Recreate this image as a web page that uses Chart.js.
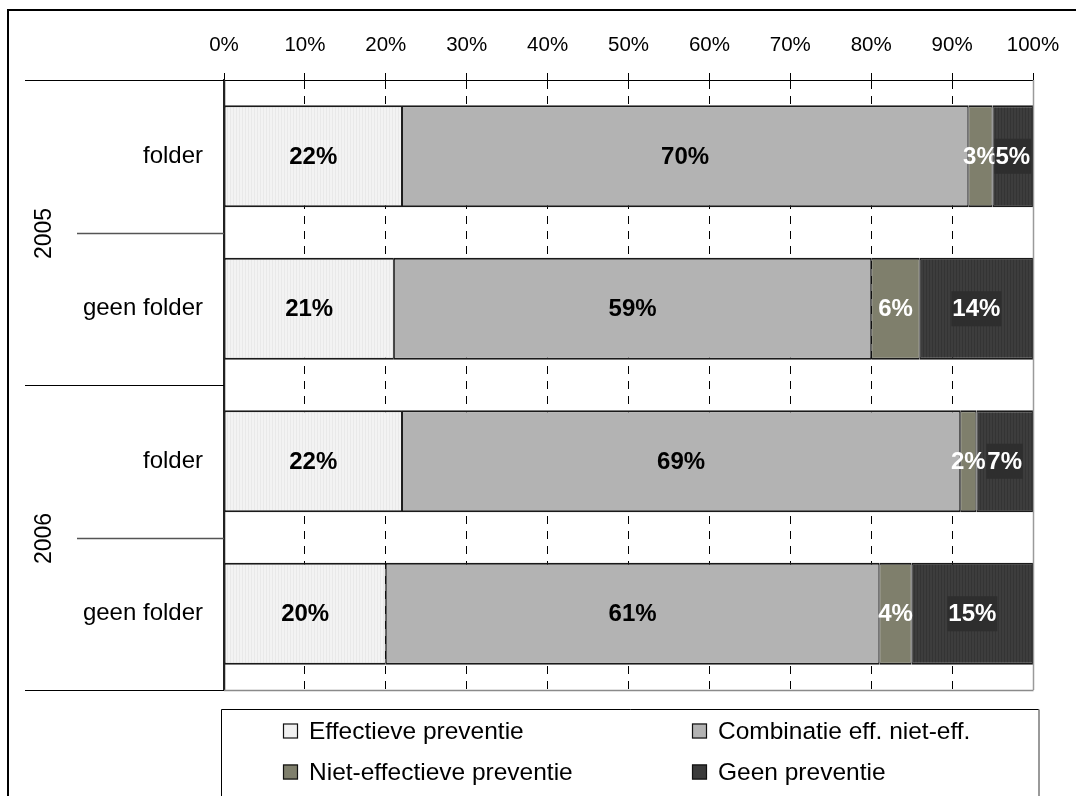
<!DOCTYPE html>
<html>
<head>
<meta charset="utf-8">
<script src="https://cdn.jsdelivr.net/npm/chart.js@4/dist/chart.umd.min.js"></script>
<style>
  html, body { margin: 0; padding: 0; background: #fff; }
  #chart { display: block; }
</style>
</head>
<body>
<canvas id="chart" width="1076" height="796"></canvas>
<script>
// Preventie per jaar, met en zonder folder (aandeel in %)
const categories = ['folder', 'geen folder', 'folder', 'geen folder'];
const groups = ['2005', '2006'];
const seriesNames = [
  'Effectieve preventie',
  'Combinatie eff. niet-eff.',
  'Niet-effectieve preventie',
  'Geen preventie'
];
const effectief = [22, 21, 22, 20];
const combinatie = [70, 59, 69, 61];
const nietEffectief = [3, 6, 2, 4];
const geenPreventie = [5, 14, 7, 15];

const FONT = '"Liberation Sans", Arial, Helvetica, sans-serif';

// Fine vertical hatching used by the lightest and darkest segments
function stripes(base, line) {
  const c = document.createElement('canvas');
  c.width = 3; c.height = 1;
  const g = c.getContext('2d');
  g.fillStyle = base; g.fillRect(0, 0, 3, 1);
  g.fillStyle = line; g.fillRect(2, 0, 1, 1);
  return g.createPattern(c, 'repeat');
}

const fills = [
  stripes('#f3f3f3', '#e9e9e9'),
  '#b3b3b3',
  '#7f7f6c',
  stripes('#3d3d3d', '#343434')
];
const swatches = ['#f1f1f1', '#b3b3b3', '#7f7f6c', '#3a3a3a'];
const labelColors = ['#000', '#000', '#fff', '#fff'];
const labelBoxes = [null, null, null, '#2e2e2e'];

const barBorder = { top: 2, bottom: 2, left: 1, right: 1 };

const datasets = [effectief, combinatie, nietEffectief, geenPreventie].map((values, i) => ({
  label: seriesNames[i],
  data: values,
  backgroundColor: fills[i],
  borderColor: '#1a1a1a',
  borderWidth: barBorder,
  borderSkipped: false,
  categoryPercentage: 1,
  barPercentage: 0.67,
  labelColor: labelColors[i],
  labelBox: labelBoxes[i]
}));

// Percentages written in the middle of each segment
const segmentLabels = {
  id: 'segmentLabels',
  afterDatasetsDraw(chart) {
    const ctx = chart.ctx;
    ctx.save();
    ctx.font = 'bold 24px ' + FONT;
    ctx.textAlign = 'center';
    ctx.textBaseline = 'middle';
    chart.data.datasets.forEach((ds, di) => {
      chart.getDatasetMeta(di).data.forEach((bar, i) => {
        const { x, y, base } = bar.getProps(['x', 'y', 'base'], true);
        const cx = (x + base) / 2;
        const text = ds.data[i] + '%';
        if (ds.labelBox) {
          const w = ctx.measureText(text).width + 2;
          ctx.fillStyle = ds.labelBox;
          ctx.fillRect(cx - w / 2, y - 17.5, w, 35);
        }
        ctx.fillStyle = ds.labelColor;
        ctx.fillText(text, cx, y + 1);
      });
    });
    ctx.restore();
  }
};

function hline(ctx, x1, x2, y, color, w) {
  ctx.strokeStyle = color; ctx.lineWidth = w || 1;
  ctx.beginPath(); ctx.moveTo(x1, y); ctx.lineTo(x2, y); ctx.stroke();
}
function vline(ctx, x, y1, y2, color, w) {
  ctx.strokeStyle = color; ctx.lineWidth = w || 1;
  ctx.beginPath(); ctx.moveTo(x, y1); ctx.lineTo(x, y2); ctx.stroke();
}

// Page background and outer frame
const frame = {
  id: 'frame',
  beforeDraw(chart) {
    const ctx = chart.ctx;
    ctx.save();
    ctx.fillStyle = '#fff';
    ctx.fillRect(0, 0, chart.width, chart.height);
    hline(ctx, 7, chart.width, 10, '#000', 2);
    vline(ctx, 8, 9, chart.height, '#000', 2);
    ctx.restore();
  }
};

// Year grouping on the category axis, plot outline and legend box
const decorations = {
  id: 'decorations',
  afterDraw(chart) {
    const ctx = chart.ctx;
    const area = chart.chartArea;
    const yScale = chart.scales.y;
    const xScale = chart.scales.x;
    const rowPx = categories.map((_, i) => yScale.getPixelForValue(i));
    const between = (a, b) => Math.round((rowPx[a] + rowPx[b]) / 2) + 0.5;
    ctx.save();

    // plot outline: solid category axis, grey right edge and bottom line
    const xLeft = Math.round(xScale.getPixelForValue(0)) + 0.5;
    const xRight = Math.round(xScale.getPixelForValue(100)) + 0.5;
    vline(ctx, xLeft, area.top, area.bottom, '#222', 1.5);
    vline(ctx, xRight, area.top, area.bottom, '#9a9a9a', 1.5);
    hline(ctx, area.left, xRight, Math.round(area.bottom) + 0.5, '#8a8a8a', 1.5);
    hline(ctx, 25, area.left, Math.round(area.bottom) + 0.5, '#000', 1);
    hline(ctx, 25, area.left, Math.round(area.top) + 0.5, '#000', 1);

    // separators: long one between the years, short ones inside each year
    hline(ctx, 25, area.left, between(1, 2), '#000', 1);
    const shortY = [between(0, 1), between(2, 3)];
    shortY.forEach(y => hline(ctx, 77, area.left, y, '#555', 1.5));

    // year labels, rotated
    ctx.fillStyle = '#000';
    ctx.font = '23px ' + FONT;
    ctx.textAlign = 'center';
    ctx.textBaseline = 'middle';
    groups.forEach((g, i) => {
      ctx.save();
      ctx.translate(45, shortY[i]);
      ctx.rotate(-Math.PI / 2);
      ctx.fillText(g, 0, 0);
      ctx.restore();
    });

    // legend box
    const boxL = 221.5, boxT = 709.5, boxR = 1039;
    hline(ctx, boxL, boxR, boxT, '#000', 1);
    vline(ctx, boxL, boxT, chart.height, '#000', 1);
    vline(ctx, boxR, boxT, chart.height, '#9a9a9a', 2);

    const cols = [283, 692];
    const rows = [731, 772];
    ctx.font = '24.5px ' + FONT;
    ctx.textAlign = 'left';
    seriesNames.forEach((name, i) => {
      const sx = cols[i % 2], sy = rows[Math.floor(i / 2)];
      ctx.fillStyle = swatches[i];
      ctx.fillRect(sx, sy - 7.5, 15, 15);
      ctx.strokeStyle = '#111';
      ctx.lineWidth = 1.2;
      ctx.strokeRect(sx + 0.5, sy - 7, 14, 14);
      ctx.fillStyle = '#000';
      ctx.fillText(name, sx + 26, sy + 1);
    });
    ctx.restore();
  }
};

new Chart(document.getElementById('chart'), {
  type: 'bar',
  data: { labels: categories, datasets },
  plugins: [frame, segmentLabels, decorations],
  options: {
    responsive: false,
    animation: false,
    indexAxis: 'y',
    layout: { padding: { left: 0, right: 43, top: 0, bottom: 106 } },
    plugins: {
      legend: { display: false },
      tooltip: { enabled: false },
      title: { display: false }
    },
    scales: {
      x: {
        position: 'top',
        stacked: true,
        min: 0,
        max: 100,
        ticks: {
          stepSize: 10,
          padding: 15,
          color: '#000',
          font: { family: FONT, size: 20.5 },
          callback: v => v + '%'
        },
        grid: {
          color: '#000',
          lineWidth: 1,
          drawTicks: true,
          tickLength: 7,
          tickBorderDash: [1, 0],
          tickColor: '#000'
        },
        border: { display: true, color: '#000', width: 1, dash: [8, 7] },
        afterFit(scale) { scale.height = 80; }
      },
      y: {
        stacked: true,
        ticks: {
          padding: 21,
          color: '#000',
          font: { family: FONT, size: 24 }
        },
        grid: { display: false, drawTicks: false },
        border: { display: true, color: '#222', width: 1.5 },
        afterFit(scale) { scale.width = 224; }
      }
    }
  }
});
</script>
</body>
</html>
